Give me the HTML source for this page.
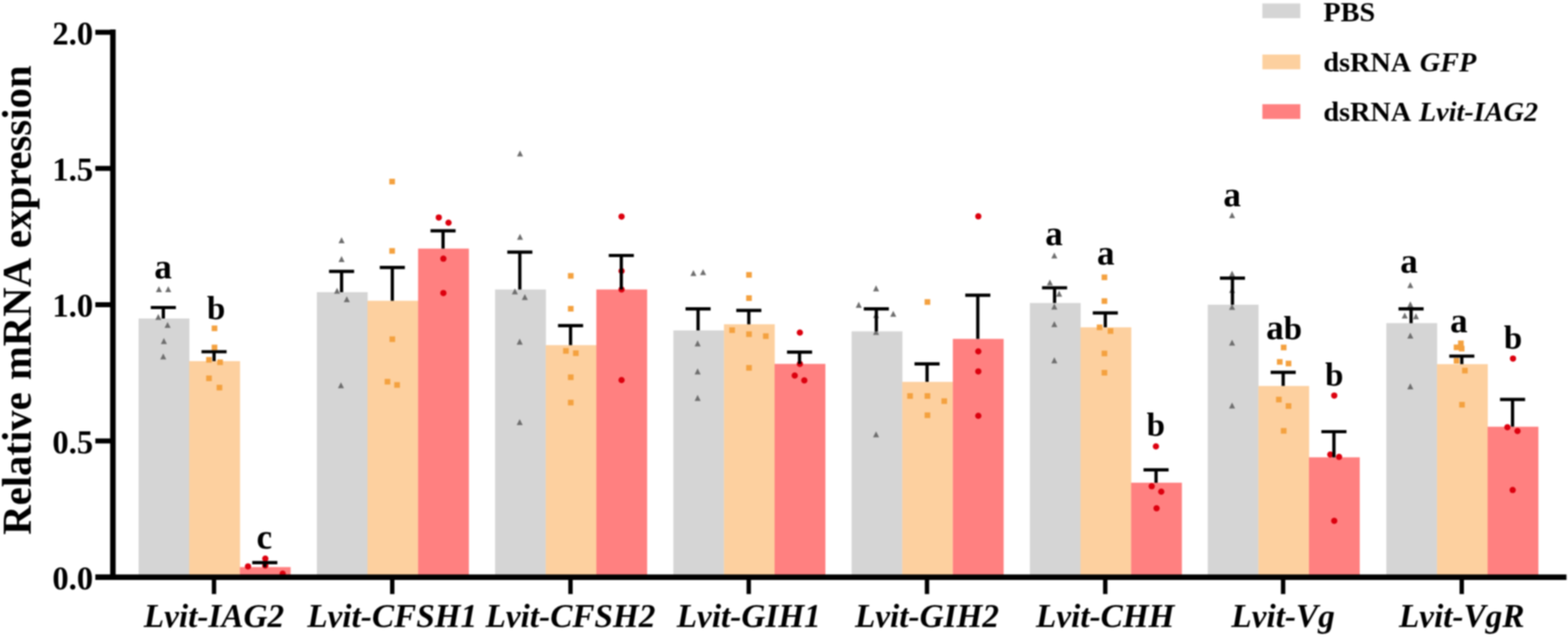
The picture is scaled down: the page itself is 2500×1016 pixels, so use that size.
<!DOCTYPE html><html><head><meta charset="utf-8"><title>Relative mRNA expression</title><style>html,body{margin:0;padding:0;background:#fff;overflow:hidden;}svg{display:block;}#c{filter:blur(1px);width:2500px;height:1016px;}text{font-family:"Liberation Serif","Times New Roman",serif;font-weight:bold;fill:#000;}</style></head><body>
<div id="c">
<svg width="2500" height="1016" viewBox="0 0 2500 1016">
<rect width="2500" height="1016" fill="#fff"/>
<rect x="221" y="508" width="81" height="412.5" fill="#D5D5D5"/>
<rect x="301.7" y="576" width="81" height="344.5" fill="#FDD09F"/>
<rect x="382.4" y="904.5" width="81" height="16" fill="#FF8080"/>
<rect x="505.2" y="466" width="81" height="454.5" fill="#D5D5D5"/>
<rect x="585.9" y="479.7" width="81" height="440.8" fill="#FDD09F"/>
<rect x="666.6" y="396.5" width="81" height="524" fill="#FF8080"/>
<rect x="789.4" y="461.7" width="81" height="458.8" fill="#D5D5D5"/>
<rect x="870.1" y="550.5" width="81" height="370" fill="#FDD09F"/>
<rect x="950.8" y="461.7" width="81" height="458.8" fill="#FF8080"/>
<rect x="1073.6" y="527" width="81" height="393.5" fill="#D5D5D5"/>
<rect x="1154.3" y="517.2" width="81" height="403.3" fill="#FDD09F"/>
<rect x="1235" y="580.4" width="81" height="340.1" fill="#FF8080"/>
<rect x="1357.8" y="528.5" width="81" height="392" fill="#D5D5D5"/>
<rect x="1438.5" y="609.1" width="81" height="311.4" fill="#FDD09F"/>
<rect x="1519.2" y="540.5" width="81" height="380" fill="#FF8080"/>
<rect x="1642" y="483.3" width="81" height="437.2" fill="#D5D5D5"/>
<rect x="1722.7" y="522.1" width="81" height="398.4" fill="#FDD09F"/>
<rect x="1803.4" y="769.9" width="81" height="150.6" fill="#FF8080"/>
<rect x="1925.6" y="486" width="81" height="434.5" fill="#D5D5D5"/>
<rect x="2006.3" y="615.6" width="81" height="304.9" fill="#FDD09F"/>
<rect x="2087" y="729.4" width="81" height="191.1" fill="#FF8080"/>
<rect x="2210.4" y="515.4" width="81" height="405.1" fill="#D5D5D5"/>
<rect x="2291.1" y="580.8" width="81" height="339.7" fill="#FDD09F"/>
<rect x="2371.8" y="680.6" width="81" height="239.9" fill="#FF8080"/>
<path d="M253.4 456.4L258.2 466L248.6 466Z" fill="#6E6E6E"/>
<path d="M268.2 456.4L273 466L263.4 466Z" fill="#6E6E6E"/>
<path d="M252.4 500.7L257.2 510.3L247.6 510.3Z" fill="#6E6E6E"/>
<path d="M267.2 513.5L272 523.1L262.4 523.1Z" fill="#6E6E6E"/>
<path d="M261.3 539.1L266.1 548.7L256.5 548.7Z" fill="#6E6E6E"/>
<path d="M260.3 563.7L265.1 573.3L255.5 573.3Z" fill="#6E6E6E"/>
<rect x="337.5" y="519.2" width="9" height="9" fill="#F4A13F"/>
<rect x="337.5" y="549.7" width="9" height="9" fill="#F4A13F"/>
<rect x="328.7" y="569.4" width="9" height="9" fill="#F4A13F"/>
<rect x="346.4" y="573.3" width="9" height="9" fill="#F4A13F"/>
<rect x="328.7" y="598.9" width="9" height="9" fill="#F4A13F"/>
<rect x="345.4" y="613.7" width="9" height="9" fill="#F4A13F"/>
<circle cx="395.4" cy="903.4" r="5" fill="#DC000E"/>
<circle cx="423" cy="891" r="5" fill="#DC000E"/>
<circle cx="423" cy="902" r="5" fill="#DC000E"/>
<circle cx="450.7" cy="915" r="5" fill="#DC000E"/>
<path d="M544.6 378.3L549.4 387.9L539.8 387.9Z" fill="#6E6E6E"/>
<path d="M544.6 408.3L549.4 417.9L539.8 417.9Z" fill="#6E6E6E"/>
<path d="M537.4 459L542.2 468.6L532.6 468.6Z" fill="#6E6E6E"/>
<path d="M552.9 472.4L557.7 482L548.1 482Z" fill="#6E6E6E"/>
<path d="M543.6 609.7L548.4 619.3L538.8 619.3Z" fill="#6E6E6E"/>
<rect x="620.7" y="285.1" width="9" height="9" fill="#F4A13F"/>
<rect x="620.7" y="395.7" width="9" height="9" fill="#F4A13F"/>
<rect x="621" y="536.5" width="9" height="9" fill="#F4A13F"/>
<rect x="613.3" y="604.3" width="9" height="9" fill="#F4A13F"/>
<rect x="628.6" y="609.5" width="9" height="9" fill="#F4A13F"/>
<circle cx="699.6" cy="346.9" r="5" fill="#DC000E"/>
<circle cx="715.1" cy="355.2" r="5" fill="#DC000E"/>
<circle cx="706.9" cy="412.6" r="5" fill="#DC000E"/>
<circle cx="706.9" cy="467.4" r="5" fill="#DC000E"/>
<path d="M829.1 240L833.9 249.6L824.3 249.6Z" fill="#6E6E6E"/>
<path d="M829.1 373L833.9 382.6L824.3 382.6Z" fill="#6E6E6E"/>
<path d="M820.9 460L825.7 469.6L816.1 469.6Z" fill="#6E6E6E"/>
<path d="M836.8 469L841.6 478.6L832 478.6Z" fill="#6E6E6E"/>
<path d="M828.6 540.1L833.4 549.7L823.8 549.7Z" fill="#6E6E6E"/>
<path d="M828.6 668.5L833.4 678.1L823.8 678.1Z" fill="#6E6E6E"/>
<rect x="905.5" y="435.5" width="9" height="9" fill="#F4A13F"/>
<rect x="905.5" y="487.9" width="9" height="9" fill="#F4A13F"/>
<rect x="897.8" y="555.2" width="9" height="9" fill="#F4A13F"/>
<rect x="913.6" y="558.8" width="9" height="9" fill="#F4A13F"/>
<rect x="905.5" y="597.2" width="9" height="9" fill="#F4A13F"/>
<rect x="905.5" y="637.6" width="9" height="9" fill="#F4A13F"/>
<circle cx="991" cy="345.4" r="5" fill="#DC000E"/>
<circle cx="991" cy="432.3" r="5" fill="#DC000E"/>
<circle cx="991" cy="461.7" r="5" fill="#DC000E"/>
<circle cx="991" cy="606.3" r="5" fill="#DC000E"/>
<path d="M1105.6 430.7L1110.4 440.3L1100.8 440.3Z" fill="#6E6E6E"/>
<path d="M1121 429.2L1125.8 438.8L1116.2 438.8Z" fill="#6E6E6E"/>
<path d="M1112.3 542.8L1117.1 552.4L1107.5 552.4Z" fill="#6E6E6E"/>
<path d="M1112.3 587.6L1117.1 597.2L1107.5 597.2Z" fill="#6E6E6E"/>
<path d="M1112.3 629.8L1117.1 639.4L1107.5 639.4Z" fill="#6E6E6E"/>
<rect x="1189.7" y="433.9" width="9" height="9" fill="#F4A13F"/>
<rect x="1189.7" y="471" width="9" height="9" fill="#F4A13F"/>
<rect x="1162.8" y="522.1" width="9" height="9" fill="#F4A13F"/>
<rect x="1189.7" y="528.5" width="9" height="9" fill="#F4A13F"/>
<rect x="1216.5" y="531.6" width="9" height="9" fill="#F4A13F"/>
<rect x="1189.7" y="582.2" width="9" height="9" fill="#F4A13F"/>
<circle cx="1275.3" cy="530.5" r="5" fill="#DC000E"/>
<circle cx="1275.3" cy="580.4" r="5" fill="#DC000E"/>
<circle cx="1267.1" cy="599" r="5" fill="#DC000E"/>
<circle cx="1282.4" cy="606.7" r="5" fill="#DC000E"/>
<path d="M1396.8 455.1L1401.6 464.7L1392 464.7Z" fill="#6E6E6E"/>
<path d="M1369.2 481.3L1374 490.9L1364.4 490.9Z" fill="#6E6E6E"/>
<path d="M1424.2 495.7L1429 505.3L1419.4 505.3Z" fill="#6E6E6E"/>
<path d="M1396.8 497.7L1401.6 507.3L1392 507.3Z" fill="#6E6E6E"/>
<path d="M1396.8 524.7L1401.6 534.3L1392 534.3Z" fill="#6E6E6E"/>
<path d="M1396.8 687.9L1401.6 697.5L1392 697.5Z" fill="#6E6E6E"/>
<rect x="1474.2" y="477.2" width="9" height="9" fill="#F4A13F"/>
<rect x="1446.5" y="627.1" width="9" height="9" fill="#F4A13F"/>
<rect x="1474.2" y="627.1" width="9" height="9" fill="#F4A13F"/>
<rect x="1501" y="635.3" width="9" height="9" fill="#F4A13F"/>
<rect x="1474.2" y="657.8" width="9" height="9" fill="#F4A13F"/>
<circle cx="1559.8" cy="345.1" r="5" fill="#DC000E"/>
<circle cx="1559.8" cy="560.5" r="5" fill="#DC000E"/>
<circle cx="1559.8" cy="592.4" r="5" fill="#DC000E"/>
<circle cx="1559.8" cy="663.3" r="5" fill="#DC000E"/>
<path d="M1681 402.7L1685.8 412.3L1676.2 412.3Z" fill="#6E6E6E"/>
<path d="M1673.9 445.7L1678.7 455.3L1669.1 455.3Z" fill="#6E6E6E"/>
<path d="M1688.7 463.6L1693.5 473.2L1683.9 473.2Z" fill="#6E6E6E"/>
<path d="M1681 484.1L1685.8 493.7L1676.2 493.7Z" fill="#6E6E6E"/>
<path d="M1681 512.2L1685.8 521.8L1676.2 521.8Z" fill="#6E6E6E"/>
<path d="M1681 569.8L1685.8 579.4L1676.2 579.4Z" fill="#6E6E6E"/>
<rect x="1756.4" y="437.8" width="9" height="9" fill="#F4A13F"/>
<rect x="1756.4" y="475.7" width="9" height="9" fill="#F4A13F"/>
<rect x="1748.7" y="517.6" width="9" height="9" fill="#F4A13F"/>
<rect x="1766.1" y="523.5" width="9" height="9" fill="#F4A13F"/>
<rect x="1756.4" y="559.3" width="9" height="9" fill="#F4A13F"/>
<rect x="1756.4" y="590" width="9" height="9" fill="#F4A13F"/>
<circle cx="1843" cy="712" r="5" fill="#DC000E"/>
<circle cx="1836.3" cy="775.6" r="5" fill="#DC000E"/>
<circle cx="1851.5" cy="784.2" r="5" fill="#DC000E"/>
<circle cx="1844" cy="810.8" r="5" fill="#DC000E"/>
<path d="M1964.4 338.4L1969.2 348L1959.6 348Z" fill="#6E6E6E"/>
<path d="M1964.4 431.7L1969.2 441.3L1959.6 441.3Z" fill="#6E6E6E"/>
<path d="M1964.4 457.7L1969.2 467.3L1959.6 467.3Z" fill="#6E6E6E"/>
<path d="M1964.4 484.7L1969.2 494.3L1959.6 494.3Z" fill="#6E6E6E"/>
<path d="M1964.4 541.7L1969.2 551.3L1959.6 551.3Z" fill="#6E6E6E"/>
<path d="M1964.4 642L1969.2 651.6L1959.6 651.6Z" fill="#6E6E6E"/>
<rect x="2042.2" y="549.7" width="9" height="9" fill="#F4A13F"/>
<rect x="2035.9" y="572.7" width="9" height="9" fill="#F4A13F"/>
<rect x="2049.9" y="575.3" width="9" height="9" fill="#F4A13F"/>
<rect x="2034.5" y="632.8" width="9" height="9" fill="#F4A13F"/>
<rect x="2049.9" y="643.1" width="9" height="9" fill="#F4A13F"/>
<rect x="2042.2" y="682.7" width="9" height="9" fill="#F4A13F"/>
<circle cx="2127.3" cy="630.9" r="5" fill="#DC000E"/>
<circle cx="2121" cy="725" r="5" fill="#DC000E"/>
<circle cx="2135" cy="728.8" r="5" fill="#DC000E"/>
<circle cx="2127.3" cy="830.7" r="5" fill="#DC000E"/>
<path d="M2248.6 449.9L2253.4 459.5L2243.8 459.5Z" fill="#6E6E6E"/>
<path d="M2248.6 480.6L2253.4 490.2L2243.8 490.2Z" fill="#6E6E6E"/>
<path d="M2239.7 498.5L2244.5 508.1L2234.9 508.1Z" fill="#6E6E6E"/>
<path d="M2257.6 499.7L2262.4 509.3L2252.8 509.3Z" fill="#6E6E6E"/>
<path d="M2248.6 530.5L2253.4 540.1L2243.8 540.1Z" fill="#6E6E6E"/>
<path d="M2248.6 611.3L2253.4 620.9L2243.8 620.9Z" fill="#6E6E6E"/>
<rect x="2324.7" y="543.1" width="9" height="9" fill="#F4A13F"/>
<rect x="2317.8" y="549.5" width="9" height="9" fill="#F4A13F"/>
<rect x="2326" y="551.5" width="9" height="9" fill="#F4A13F"/>
<rect x="2317.8" y="571" width="9" height="9" fill="#F4A13F"/>
<rect x="2331.1" y="586.6" width="9" height="9" fill="#F4A13F"/>
<rect x="2326.5" y="641" width="9" height="9" fill="#F4A13F"/>
<circle cx="2412.3" cy="571.9" r="5" fill="#DC000E"/>
<circle cx="2403.4" cy="681.4" r="5" fill="#DC000E"/>
<circle cx="2419.5" cy="687.5" r="5" fill="#DC000E"/>
<circle cx="2411.8" cy="781.6" r="5" fill="#DC000E"/>
<path d="M260.4 508V487.9M240.4 490.5H280.4" stroke="#000" stroke-width="5.2" fill="none"/>
<path d="M341.3 576V558.4M321.3 561H361.3" stroke="#000" stroke-width="5.2" fill="none"/>
<path d="M422.2 904.5V894.8M402.2 897.4H442.2" stroke="#000" stroke-width="5.2" fill="none"/>
<path d="M544.6 466V430.3M524.6 432.9H564.6" stroke="#000" stroke-width="5.2" fill="none"/>
<path d="M625.5 479.7V424.1M605.5 426.7H645.5" stroke="#000" stroke-width="5.2" fill="none"/>
<path d="M706.4 396.5V365.6M686.4 368.2H726.4" stroke="#000" stroke-width="5.2" fill="none"/>
<path d="M828.8 461.7V399.5M808.8 402.1H848.8" stroke="#000" stroke-width="5.2" fill="none"/>
<path d="M909.7 550.5V516.7M889.7 519.3H929.7" stroke="#000" stroke-width="5.2" fill="none"/>
<path d="M990.6 461.7V404.9M970.6 407.5H1010.6" stroke="#000" stroke-width="5.2" fill="none"/>
<path d="M1113 527V490M1093 492.6H1133" stroke="#000" stroke-width="5.2" fill="none"/>
<path d="M1193.9 517.2V492.6M1173.9 495.2H1213.9" stroke="#000" stroke-width="5.2" fill="none"/>
<path d="M1274.8 580.4V559.1M1254.8 561.7H1294.8" stroke="#000" stroke-width="5.2" fill="none"/>
<path d="M1397.2 528.5V490.1M1377.2 492.7H1417.2" stroke="#000" stroke-width="5.2" fill="none"/>
<path d="M1478.1 609.1V577.8M1458.1 580.4H1498.1" stroke="#000" stroke-width="5.2" fill="none"/>
<path d="M1559 540.5V468.3M1539 470.9H1579" stroke="#000" stroke-width="5.2" fill="none"/>
<path d="M1681.4 483.3V456.4M1661.4 459H1701.4" stroke="#000" stroke-width="5.2" fill="none"/>
<path d="M1762.3 522.1V496.5M1742.3 499.1H1782.3" stroke="#000" stroke-width="5.2" fill="none"/>
<path d="M1843.2 769.9V746.8M1823.2 749.4H1863.2" stroke="#000" stroke-width="5.2" fill="none"/>
<path d="M1965 486V441.1M1945 443.7H1985" stroke="#000" stroke-width="5.2" fill="none"/>
<path d="M2045.9 615.6V591.2M2025.9 593.8H2065.9" stroke="#000" stroke-width="5.2" fill="none"/>
<path d="M2126.8 729.4V685.9M2106.8 688.5H2146.8" stroke="#000" stroke-width="5.2" fill="none"/>
<path d="M2249.8 515.4V490M2229.8 492.6H2269.8" stroke="#000" stroke-width="5.2" fill="none"/>
<path d="M2330.7 580.8V565.4M2310.7 568H2350.7" stroke="#000" stroke-width="5.2" fill="none"/>
<path d="M2411.6 680.6V634.5M2391.6 637.1H2431.6" stroke="#000" stroke-width="5.2" fill="none"/>
<path d="M180 47V924.8" stroke="#000" stroke-width="8.8" fill="none"/><path d="M152 920.6H2497.6" stroke="#000" stroke-width="8.6" fill="none"/>
<path d="M152 51.5H180" stroke="#000" stroke-width="8"/>
<text x="148.6" y="70.8" font-size="52" text-anchor="end">2.0</text>
<path d="M152 268.6H180" stroke="#000" stroke-width="8"/>
<text x="148.6" y="287.9" font-size="52" text-anchor="end">1.5</text>
<path d="M152 486H180" stroke="#000" stroke-width="8"/>
<text x="148.6" y="505.3" font-size="52" text-anchor="end">1.0</text>
<path d="M152 703.3H180" stroke="#000" stroke-width="8"/>
<text x="148.6" y="722.6" font-size="52" text-anchor="end">0.5</text>
<path d="M152 920.5H180" stroke="#000" stroke-width="8"/>
<text x="148.6" y="939.8" font-size="52" text-anchor="end">0.0</text>
<path d="M341.2 920V947.5" stroke="#000" stroke-width="7"/>
<text x="341.2" y="1000" font-size="53" font-style="italic" text-anchor="middle">Lvit-IAG2</text>
<path d="M625.4 920V947.5" stroke="#000" stroke-width="7"/>
<text x="625.4" y="1000" font-size="53" font-style="italic" text-anchor="middle">Lvit-CFSH1</text>
<path d="M909.6 920V947.5" stroke="#000" stroke-width="7"/>
<text x="909.6" y="1000" font-size="53" font-style="italic" text-anchor="middle">Lvit-CFSH2</text>
<path d="M1193.8 920V947.5" stroke="#000" stroke-width="7"/>
<text x="1193.8" y="1000" font-size="53" font-style="italic" text-anchor="middle">Lvit-GIH1</text>
<path d="M1478 920V947.5" stroke="#000" stroke-width="7"/>
<text x="1478" y="1000" font-size="53" font-style="italic" text-anchor="middle">Lvit-GIH2</text>
<path d="M1762.2 920V947.5" stroke="#000" stroke-width="7"/>
<text x="1762.2" y="1000" font-size="53" font-style="italic" text-anchor="middle">Lvit-CHH</text>
<path d="M2045.8 920V947.5" stroke="#000" stroke-width="7"/>
<text x="2045.8" y="1000" font-size="53" font-style="italic" text-anchor="middle">Lvit-Vg</text>
<path d="M2330.6 920V947.5" stroke="#000" stroke-width="7"/>
<text x="2330.6" y="1000" font-size="53" font-style="italic" text-anchor="middle">Lvit-VgR</text>
<text x="260" y="444" font-size="56" text-anchor="middle">a</text>
<text x="344.7" y="508.5" font-size="52.5" text-anchor="middle">b</text>
<text x="421.4" y="874.5" font-size="56" text-anchor="middle">c</text>
<text x="1680.5" y="391.2" font-size="56" text-anchor="middle">a</text>
<text x="1762.9" y="422.4" font-size="56" text-anchor="middle">a</text>
<text x="1842.9" y="695.3" font-size="52.5" text-anchor="middle">b</text>
<text x="1964.4" y="329.1" font-size="56" text-anchor="middle">a</text>
<text x="2047.4" y="540.6" font-size="56" text-anchor="middle">a<tspan font-size="52.5">b</tspan></text>
<text x="2127.3" y="614.5" font-size="52.5" text-anchor="middle">b</text>
<text x="2246.6" y="435" font-size="56" text-anchor="middle">a</text>
<text x="2325.9" y="529.7" font-size="56" text-anchor="middle">a</text>
<text x="2412.3" y="556.2" font-size="52.5" text-anchor="middle">b</text>
<text transform="translate(48.7 853) rotate(-90)" x="0" y="0" font-size="65" word-spacing="3">Relative mRNA expression</text>
<rect x="2012.7" y="5.5" width="60.5" height="23.5" fill="#D5D5D5"/>
<text x="2110" y="34.1" font-size="45">PBS</text>
<rect x="2012.7" y="87" width="60.5" height="23.5" fill="#FDD09F"/>
<text x="2110" y="114.4" font-size="45">dsRNA <tspan font-style="italic" dx="5">GFP</tspan></text>
<rect x="2012.7" y="166.2" width="60.5" height="23.5" fill="#FF8080"/>
<text x="2110" y="192.5" font-size="45">dsRNA <tspan font-style="italic" dx="3.5">Lvit-IAG2</tspan></text>
</svg></div></body></html>
